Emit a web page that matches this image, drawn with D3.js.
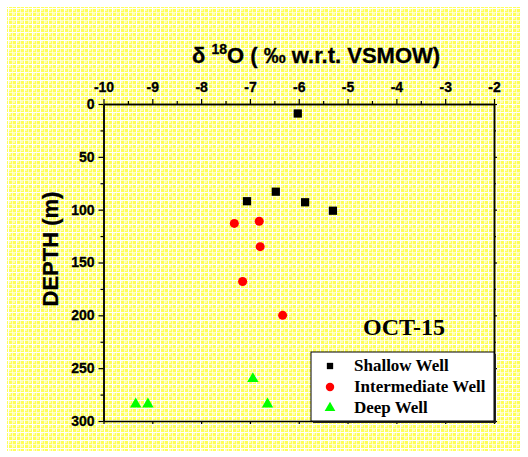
<!DOCTYPE html>
<html>
<head>
<meta charset="utf-8">
<script src="https://cdn.jsdelivr.net/npm/d3@7"></script>
<style>
  html, body { margin: 0; padding: 0; background: #fff; }
  svg { display: block; }
  .tick text { font-family: "Liberation Sans", Arial, sans-serif; font-weight: 700; font-size: 14px; }
</style>
</head>
<body>
<div id="viz"></div>
<script>
// --- Data ---
const shallowX = [-6.02, -7.06, -6.47, -5.87, -5.30];
const shallowDepth = [9, 92, 83, 93, 101];

const intermediateX = [-7.32, -6.81, -6.79, -7.15, -6.33];
const intermediateDepth = [113, 111, 135, 168, 200];

const deepX = [-9.34, -9.09, -6.94, -6.64];
const deepDepth = [284, 284, 260, 284];

const xTicks = [-10, -9, -8, -7, -6, -5, -4, -3, -2];
const yTicks = [0, 50, 100, 150, 200, 250, 300];
const seriesNames = ["Shallow Well", "Intermediate Well", "Deep Well"];

// --- Layout ---
const width = 528, height = 457;
const margin = { left: 103.5, right: 34, top: 104, bottom: 36 };

const svg = d3.select("#viz")
  .append("svg")
  .attr("width", width)
  .attr("height", height);

// yellow graph-paper background
const defs = svg.append("defs");
const pat = defs.append("pattern")
  .attr("id", "paper")
  .attr("width", 8).attr("height", 8)
  .attr("patternUnits", "userSpaceOnUse");
pat.append("rect").attr("width", 8).attr("height", 8).attr("fill", "#ffff58");
pat.append("rect").attr("x", 1).attr("y", 1).attr("width", 2).attr("height", 2).attr("fill", "#ffffb0");
pat.append("rect").attr("x", 5).attr("y", 5).attr("width", 2).attr("height", 2).attr("fill", "#ffffb0");
pat.append("rect").attr("x", 0).attr("y", 0).attr("width", 1).attr("height", 8).attr("fill", "#ffffff");
pat.append("rect").attr("x", 0).attr("y", 0).attr("width", 8).attr("height", 1).attr("fill", "#ffffff");
pat.append("rect").attr("x", 4).attr("y", 0).attr("width", 1).attr("height", 8).attr("fill", "#fffff0").attr("opacity", 0.7);
pat.append("rect").attr("x", 0).attr("y", 4).attr("width", 8).attr("height", 1).attr("fill", "#fffff0").attr("opacity", 0.7);

svg.append("rect")
  .attr("x", 7).attr("y", 7)
  .attr("width", 514).attr("height", 444)
  .attr("fill", "url(#paper)");

const x = d3.scaleLinear([-10, -2], [margin.left, width - margin.right]);
const y = d3.scaleLinear([0, 300], [margin.top, height - margin.bottom]);

const fmt = d => String(d);
const halfSteps = d3.range(-9.5, -2, 1);
const minorDepth = d3.range(25, 300, 50);

function styleAxis(g) {
  g.selectAll(".domain").attr("stroke", "#000").attr("stroke-width", 1.5);
  g.selectAll(".tick line").attr("stroke", "#000").attr("stroke-width", 1.2);
  g.selectAll("text").attr("fill", "#000").attr("stroke", "#000").attr("stroke-width", 0.3);
}

// top axis (labelled)
svg.append("g")
  .attr("transform", `translate(0,${y(0)})`)
  .call(d3.axisTop(x).tickValues(xTicks).tickFormat(fmt).tickSize(5).tickPadding(7).tickSizeOuter(0))
  .call(styleAxis);
svg.append("g")
  .attr("transform", `translate(0,${y(0)})`)
  .call(d3.axisTop(x).tickValues(halfSteps).tickFormat("").tickSize(3).tickSizeOuter(0))
  .call(styleAxis);

// bottom axis (ticks only)
svg.append("g")
  .attr("transform", `translate(0,${y(300)})`)
  .call(d3.axisBottom(x).tickValues(xTicks).tickFormat("").tickSize(3).tickSizeOuter(0))
  .call(styleAxis);

// left axis (labelled)
svg.append("g")
  .attr("transform", `translate(${x(-10)},0)`)
  .call(d3.axisLeft(y).tickValues(yTicks).tickFormat(fmt).tickSize(5).tickPadding(4).tickSizeOuter(0))
  .call(styleAxis);
svg.append("g")
  .attr("transform", `translate(${x(-10)},0)`)
  .call(d3.axisLeft(y).tickValues(minorDepth).tickFormat("").tickSize(3).tickSizeOuter(0))
  .call(styleAxis);

// right axis (ticks only)
svg.append("g")
  .attr("transform", `translate(${x(-2)},0)`)
  .call(d3.axisRight(y).tickValues(yTicks).tickFormat("").tickSize(3).tickSizeOuter(0))
  .call(styleAxis);
svg.append("g")
  .attr("transform", `translate(${x(-2)},0)`)
  .call(d3.axisRight(y).tickValues(minorDepth).tickFormat("").tickSize(2).tickSizeOuter(0))
  .call(styleAxis);

// titles
const title = svg.append("text")
  .attr("x", 192).attr("y", 63)
  .attr("fill", "#000")
  .attr("stroke", "#000").attr("stroke-width", 0.3)
  .style("font-family", "'Liberation Sans', Arial, sans-serif")
  .style("font-weight", "bold")
  .style("font-size", "22px");
title.append("tspan").text("δ ");
title.append("tspan").attr("dy", -9).style("font-size", "14px").text("18");
title.append("tspan").attr("dy", 9).text("O ( ‰ w.r.t. VSMOW)");

svg.append("text")
  .attr("transform", `translate(58,249) rotate(-90)`)
  .attr("text-anchor", "middle")
  .attr("fill", "#000")
  .attr("stroke", "#000").attr("stroke-width", 0.3)
  .style("font-family", "'Liberation Sans', Arial, sans-serif")
  .style("font-weight", "bold")
  .style("font-size", "22px")
  .text("DEPTH (m)");

svg.append("text")
  .attr("x", 404).attr("y", 335)
  .attr("text-anchor", "middle")
  .attr("fill", "#000")
  .style("font-family", "'Liberation Serif', 'Times New Roman', serif")
  .style("font-weight", "bold")
  .style("font-size", "24px")
  .text("OCT-15");

// --- Markers ---
const sym = {
  square: d3.symbol(d3.symbolSquare, 68),
  circle: d3.symbol(d3.symbolCircle, 64),
  triangle: d3.symbol(d3.symbolTriangle, 56)
};

function drawSeries(xs, ys, shape, color) {
  svg.append("g")
    .selectAll("path")
    .data(xs.map((v, i) => [v, ys[i]]))
    .join("path")
    .attr("transform", d => `translate(${x(d[0])},${y(d[1])})`)
    .attr("d", sym[shape])
    .attr("fill", color);
}

drawSeries(shallowX, shallowDepth, "square", "#000");
drawSeries(intermediateX, intermediateDepth, "circle", "#ff0000");
drawSeries(deepX, deepDepth, "triangle", "#00ff00");

// --- Legend ---
const lg = svg.append("g").attr("transform", "translate(311,352)");
lg.append("rect").attr("x", 2).attr("y", 2).attr("width", 183).attr("height", 69).attr("fill", "#222");
lg.append("rect").attr("width", 183).attr("height", 69).attr("fill", "#fff").attr("stroke", "#000").attr("stroke-width", 1);

const legendShapes = ["square", "circle", "triangle"];
const legendColors = ["#000", "#ff0000", "#00ff00"];
const legendSym = {
  square: d3.symbol(d3.symbolSquare, 40),
  circle: d3.symbol(d3.symbolCircle, 56),
  triangle: d3.symbol(d3.symbolTriangle, 50)
};
seriesNames.forEach((name, i) => {
  const ry = 14 + i * 21;
  lg.append("path")
    .attr("transform", `translate(19,${ry})`)
    .attr("d", legendSym[legendShapes[i]])
    .attr("fill", legendColors[i]);
  lg.append("text")
    .attr("x", 43).attr("y", ry + 5)
    .attr("fill", "#000")
    .style("font-family", "'Liberation Serif', 'Times New Roman', serif")
    .style("font-weight", "bold")
    .style("font-size", "17px")
    .text(name);
});
</script>
</body>
</html>
